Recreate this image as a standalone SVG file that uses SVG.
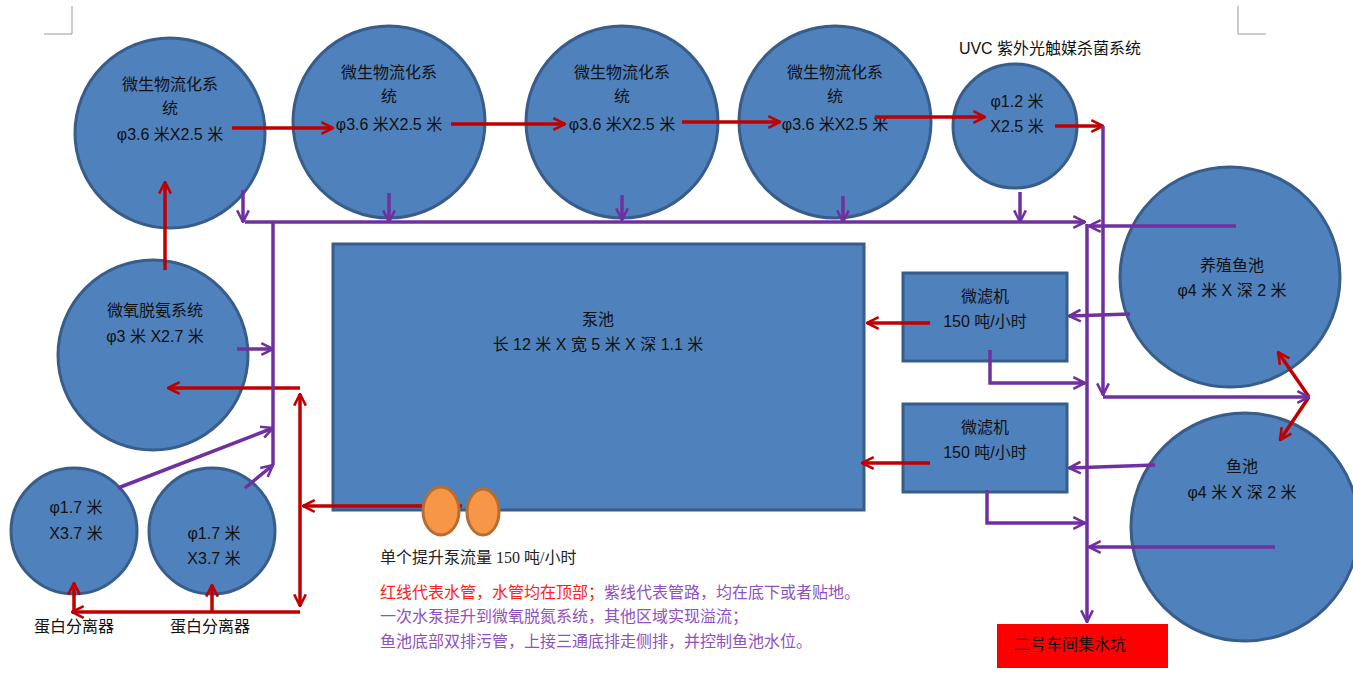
<svg xmlns="http://www.w3.org/2000/svg" width="1353" height="678" viewBox="0 0 1353 678">
<style>
.n{fill:#4f81bd;stroke:#385d8a;stroke-width:3}
.t{font-family:"Liberation Sans","Noto Sans CJK SC",sans-serif;font-size:16px;fill:#111;text-anchor:middle}
.r{stroke:#c00000;stroke-width:3.5;fill:none}
.p{stroke:#7030a0;stroke-width:3.5;fill:none}
.ra{marker-end:url(#mr)}
.pa{marker-end:url(#mp)}
.l{font-family:"Liberation Serif","Noto Sans CJK SC",serif;font-size:16px}
</style>
<defs>
<marker id="mr" viewBox="0 0 12 12" refX="11" refY="6" markerWidth="4" markerHeight="4" orient="auto" markerUnits="strokeWidth"><path d="M1,1 L11,6 L1,11" fill="none" stroke="#c00000" stroke-width="2.2"/></marker>
<marker id="mp" viewBox="0 0 12 12" refX="11" refY="6" markerWidth="4" markerHeight="4" orient="auto" markerUnits="strokeWidth"><path d="M1,1 L11,6 L1,11" fill="none" stroke="#7030a0" stroke-width="2.2"/></marker>
<marker id="mrs" viewBox="0 0 12 12" refX="1" refY="6" markerWidth="4" markerHeight="4" orient="auto" markerUnits="strokeWidth"><path d="M11,1 L1,6 L11,11" fill="none" stroke="#c00000" stroke-width="2.2"/></marker>
</defs>
<g stroke="#999" fill="none" stroke-width="1"><path d="M44,34 H72 V6"/><path d="M1238,6 V34 H1266"/></g>
<g id="bio1"><circle class="n" cx="170" cy="133" r="95"/><text class="t" x="170" y="90">微生物流化系</text><text class="t" x="170" y="114">统</text><text class="t" x="170" y="140">φ3.6 米X2.5 米</text></g>
<g id="bio2"><circle class="n" cx="389" cy="122" r="96"/><text class="t" x="389" y="78">微生物流化系</text><text class="t" x="389" y="102">统</text><text class="t" x="389" y="130">φ3.6 米X2.5 米</text></g>
<g id="bio3"><circle class="n" cx="622" cy="122" r="96"/><text class="t" x="622" y="78">微生物流化系</text><text class="t" x="622" y="102">统</text><text class="t" x="622" y="130">φ3.6 米X2.5 米</text></g>
<g id="bio4"><circle class="n" cx="835" cy="122" r="96"/><text class="t" x="835" y="78">微生物流化系</text><text class="t" x="835" y="102">统</text><text class="t" x="835" y="130">φ3.6 米X2.5 米</text></g>
<g id="uvc"><text class="t" x="1050" y="54">UVC 紫外光触媒杀菌系统</text><circle class="n" cx="1015" cy="126" r="62"/><text class="t" x="1017" y="107">φ1.2 米</text><text class="t" x="1017" y="132">X2.5 米</text></g>
<g id="fish1"><circle class="n" cx="1230" cy="277" r="110"/><text class="t" x="1232" y="271">养殖鱼池</text><text class="t" x="1232" y="296">φ4 米 X 深 2 米</text></g>
<g id="fish2"><circle class="n" cx="1245" cy="527" r="114"/><text class="t" x="1242" y="472">鱼池</text><text class="t" x="1242" y="498">φ4 米 X 深 2 米</text></g>
<g id="deox"><circle class="n" cx="153" cy="355" r="95"/><text class="t" x="155" y="316">微氧脱氨系统</text><text class="t" x="155" y="342">φ3 米 X2.7 米</text></g>
<g id="sep1"><circle class="n" cx="74" cy="531" r="63"/><text class="t" x="76" y="513">φ1.7 米</text><text class="t" x="76" y="539">X3.7 米</text><text class="t" x="74" y="632">蛋白分离器</text></g>
<g id="sep2"><circle class="n" cx="212" cy="531" r="63"/><text class="t" x="214" y="539">φ1.7 米</text><text class="t" x="214" y="564">X3.7 米</text><text class="t" x="210" y="632">蛋白分离器</text></g>
<g id="pool"><rect class="n" x="333" y="244" width="531" height="266"/><text class="t" x="598" y="325">泵池</text><text class="t" x="598" y="350">长 12 米 X 宽 5 米 X 深 1.1 米</text></g>
<g id="filter1"><rect class="n" x="903" y="273" width="164" height="88"/><text class="t" x="985" y="302">微滤机</text><text class="t" x="985" y="327">150 吨/小时</text></g>
<g id="filter2"><rect class="n" x="903" y="404" width="164" height="88"/><text class="t" x="985" y="433">微滤机</text><text class="t" x="985" y="458">150 吨/小时</text></g>
<g id="sump"><rect x="997" y="624" width="171" height="44" fill="#ff0000"/><text class="t" x="1070" y="650">二号车间集水坑</text></g>
<g id="connectors">
<path class="r ra" d="M232,128 H333"/><path class="r ra" d="M451,124 H565"/><path class="r ra" d="M682,122 H780"/><path class="r ra" d="M875,117 H985"/><path class="r ra" d="M1055,126 H1103"/>
<path class="r ra" d="M165,270 V182"/>
<path class="r ra" d="M462,506 H303"/>
<path class="r ra" d="M300,388 H168"/>
<path class="r" d="M300,394 V606" marker-start="url(#mrs)" marker-end="url(#mr)"/>
<path class="r ra" d="M300,612 H72"/><path class="r ra" d="M212,612 V585"/><path class="r ra" d="M74,612 V583"/>
<path class="r ra" d="M930,323 H867"/><path class="r ra" d="M930,463 H862"/>
<path class="r ra" d="M1309,397 L1278,352"/><path class="r ra" d="M1309,397 L1280,440"/>
<path class="p pa" d="M245,222 H1085"/>
<path class="p pa" d="M243,190 V222"/><path class="p pa" d="M389,193 V222"/><path class="p pa" d="M622,195 V220"/><path class="p pa" d="M843,196 V222"/><path class="p pa" d="M1020,192 V222"/>
<path class="p" d="M273,222 V465"/>
<path class="p pa" d="M237,349 H273"/><path class="p pa" d="M118,488 L273,428"/><path class="p pa" d="M245,488 L273,465"/>
<path class="p pa" d="M1087,224 V622"/>
<path class="p pa" d="M1236,226 H1089"/>
<path class="p pa" d="M1130,314 L1069,316"/>
<path class="p pa" d="M990,350 V383 H1085"/>
<path class="p pa" d="M1103,126 V395"/><path class="p pa" d="M1103,397 H1309"/>
<path class="p pa" d="M1155,465 L1069,468"/>
<path class="p pa" d="M987,490 V523 H1085"/>
<path class="p pa" d="M1275,547 H1089"/>
</g>
<g id="pumps"><ellipse cx="441" cy="511" rx="18" ry="24" fill="#f79646" stroke="#b66d31" stroke-width="3"/><ellipse cx="483" cy="512" rx="16" ry="23" fill="#f79646" stroke="#b66d31" stroke-width="3"/></g>
<text class="l" x="380" y="563" fill="#222">单个提升泵流量 150 吨/小时</text>
<text class="l" x="380" y="598" fill="#ff2020">红线代表水管，水管均在顶部；<tspan fill="#9050c0">紫线代表管路，均在底下或者贴地。</tspan></text>
<text class="l" x="380" y="622" fill="#9050c0">一次水泵提升到微氧脱氮系统，其他区域实现溢流；</text>
<text class="l" x="380" y="647" fill="#9050c0">鱼池底部双排污管，上接三通底排走侧排，并控制鱼池水位。</text>
</svg>
